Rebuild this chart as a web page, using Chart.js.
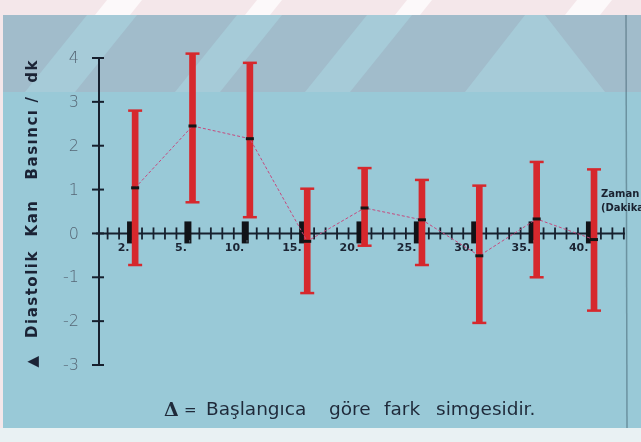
<!DOCTYPE html>
<html>
<head>
<meta charset="utf-8">
<script src="https://cdn.jsdelivr.net/npm/chart.js@4.4.0/dist/chart.umd.min.js"></script>
<style>
  html, body { margin: 0; padding: 0; background: #f3e8eb; }
  #wrap { width: 641px; height: 442px; }
  canvas { display: block; }
</style>
</head>
<body>
<div id="wrap"><canvas id="chart" width="641" height="442"></canvas></div>
<script>
// Measurement times (minutes) and change from baseline in diastolic pressure
const categories = ['2.', '5.', '10.', '15.', '20.', '25.', '30.', '35.', '40.'];
const meanChange = [1.04, 2.45, 2.16, -0.18, 0.58, 0.31, -0.51, 0.33, -0.14];
const upperLimit = [2.80, 4.10, 3.89, 1.02, 1.49, 1.22, 1.09, 1.63, 1.46];
const lowerLimit = [-0.72, 0.71, 0.37, -1.36, -0.28, -0.72, -2.04, -1.00, -1.76];
const yTicks = [4, 3, 2, 1, 0, -1, -2, -3];

const X_MIN = -0.55, X_MAX = 8.62;   // axis extent in category units
const MINOR_STEP = 0.2;              // minor tick spacing on the time axis
const SHIFT = 0.08;                  // error bars sit just right of each time block

const RED = '#d6282d';
const INK = '#17202e';

const barData = categories.map((c, i) => ({ x: i + SHIFT, y: [lowerLimit[i], upperLimit[i]] }));
const capData = categories.flatMap((c, i) => [
  { x: i + SHIFT, y: upperLimit[i] },
  { x: i + SHIFT, y: lowerLimit[i] }
]);
const meanData = categories.map((c, i) => ({ x: i + SHIFT, y: meanChange[i] }));

// slide backdrop: pale paper edge, blue slide with a shaded, striped top band
const backdrop = {
  id: 'backdrop',
  beforeDraw(chart) {
    const ctx = chart.ctx;
    ctx.save();
    ctx.fillStyle = '#f4e7ea';
    ctx.fillRect(0, 0, 641, 442);
    // white diagonal streaks on the paper strip
    ctx.fillStyle = 'rgba(255,255,255,0.75)';
    [[95, 130], [245, 270], [395, 420], [565, 600]].forEach(([a, b]) => {
      ctx.beginPath();
      ctx.moveTo(a, 15); ctx.lineTo(b, 15); ctx.lineTo(b + 12, 0); ctx.lineTo(a + 12, 0);
      ctx.closePath(); ctx.fill();
    });
    // slide body
    ctx.fillStyle = '#99c9d7';
    ctx.fillRect(3, 15, 638, 413);
    // shaded top band
    ctx.fillStyle = '#a1bccb';
    ctx.fillRect(3, 15, 638, 77);
    ctx.fillStyle = '#a6cbd8';
    [[25, 75], [175, 220], [305, 350]].forEach(([a, b]) => {
      ctx.beginPath();
      ctx.moveTo(a, 92); ctx.lineTo(b, 92); ctx.lineTo(b + 62, 15); ctx.lineTo(a + 62, 15);
      ctx.closePath(); ctx.fill();
    });
    ctx.beginPath();
    ctx.moveTo(465, 92); ctx.lineTo(605, 92); ctx.lineTo(545, 15); ctx.lineTo(525, 15);
    ctx.closePath(); ctx.fill();
    // bottom paper strip
    ctx.fillStyle = '#e9f1f3';
    ctx.fillRect(0, 428, 641, 14);
    // slide edge on the right
    ctx.strokeStyle = 'rgba(70,100,115,0.55)';
    ctx.lineWidth = 1.5;
    ctx.beginPath(); ctx.moveTo(626, 15); ctx.lineTo(627, 428); ctx.stroke();
    ctx.restore();
  }
};

// crossing axes with through-ticks, time blocks and tick labels
const crossAxes = {
  id: 'crossAxes',
  beforeDatasetsDraw(chart) {
    const ctx = chart.ctx;
    const xs = chart.scales.x, ys = chart.scales.y;
    const ax = xs.getPixelForValue(X_MIN);
    const y0 = ys.getPixelForValue(0);
    ctx.save();
    ctx.strokeStyle = INK;
    ctx.fillStyle = INK;
    ctx.lineWidth = 2;
    // vertical axis
    ctx.beginPath();
    ctx.moveTo(ax, ys.getPixelForValue(yTicks[0]));
    ctx.lineTo(ax, ys.getPixelForValue(yTicks[yTicks.length - 1]));
    ctx.stroke();
    ctx.font = '300 16px "DejaVu Sans", sans-serif';
    ctx.textAlign = 'right';
    ctx.textBaseline = 'middle';
    yTicks.forEach(v => {
      const py = ys.getPixelForValue(v);
      ctx.strokeStyle = INK;
      ctx.beginPath(); ctx.moveTo(ax - 7, py); ctx.lineTo(ax + 5, py); ctx.stroke();
      ctx.fillStyle = '#566675';
      ctx.fillText(String(v), ax - 20, py + 1);
    });
    // horizontal time axis through zero
    ctx.strokeStyle = INK;
    ctx.beginPath();
    ctx.moveTo(ax - 3, y0);
    ctx.lineTo(xs.getPixelForValue(X_MAX), y0);
    ctx.stroke();
    ctx.lineWidth = 1.8;
    for (let k = Math.ceil(X_MIN / MINOR_STEP); k * MINOR_STEP <= X_MAX + 1e-9; k++) {
      const px = xs.getPixelForValue(k * MINOR_STEP);
      ctx.beginPath(); ctx.moveTo(px, y0 - 6); ctx.lineTo(px, y0 + 6); ctx.stroke();
    }
    // time blocks and labels
    ctx.fillStyle = '#111318';
    categories.forEach((c, i) => {
      const px = xs.getPixelForValue(i);
      ctx.fillRect(px - 3.5, y0 - 12, 7, 22);
    });
    ctx.textAlign = 'right';
    ctx.textBaseline = 'alphabetic';
    categories.forEach((c, i) => {
      const px = xs.getPixelForValue(i);
      ctx.fillStyle = '#1c2433';
      ctx.font = 'bold 11px "DejaVu Sans", sans-serif';
      ctx.fillText(c, px - 1, y0 + 18);
      ctx.fillStyle = '#6f7f8a';
      ctx.font = '9px "DejaVu Sans", sans-serif';
      ctx.fillText("'", px + 3, y0 + 14);
    });
    ctx.restore();
  },
  afterDraw(chart) {
    const ctx = chart.ctx;
    ctx.save();
    // axis name of the time axis
    ctx.fillStyle = '#1a2230';
    ctx.font = 'bold 10px "DejaVu Sans", sans-serif';
    ctx.textAlign = 'left';
    ctx.textBaseline = 'alphabetic';
    ctx.fillText('Zaman', 601, 197);
    ctx.fillText('(Dakika)', 601, 211);
    // vertical axis title, word by word
    ctx.translate(33, 0);
    ctx.rotate(-Math.PI / 2);
    ctx.fillStyle = '#1b2335';
    ctx.textAlign = 'center';
    ctx.textBaseline = 'middle';
    ctx.font = 'bold 15px "DejaVu Sans", sans-serif';
    ctx.letterSpacing = '1.5px';
    [['▲', 361], ['Diastolik', 294], ['Kan', 218], ['Basıncı', 144], ['/', 99], ['dk', 71]]
      .forEach(([w, y]) => ctx.fillText(w, -y, 0));
    ctx.restore();

    // footnote
    ctx.save();
    ctx.fillStyle = '#1f2a3a';
    ctx.textBaseline = 'alphabetic';
    ctx.textAlign = 'left';
    ctx.font = 'bold 19px "DejaVu Serif", serif';
    ctx.fillText('Δ', 164, 416);
    ctx.font = '15px "DejaVu Sans", sans-serif';
    ctx.fillText('=', 184, 415);
    ctx.font = '18.5px "DejaVu Sans", sans-serif';
    [['Başlangıca', 206], ['göre', 329], ['fark', 384], ['simgesidir.', 436]]
      .forEach(([w, x]) => ctx.fillText(w, x, 415));
    ctx.restore();
  }
};

new Chart(document.getElementById('chart'), {
  type: 'bar',
  data: {
    datasets: [
      {
        type: 'line',
        data: meanData,
        order: 0,
        borderColor: '#c64a7e',
        borderWidth: 1,
        borderDash: [3, 2],
        pointStyle: 'line',
        pointRadius: 4,
        pointBorderWidth: 3,
        pointBorderColor: '#151515',
        pointBackgroundColor: '#151515',
        clip: false
      },
      {
        type: 'scatter',
        data: capData,
        order: 1,
        pointStyle: 'line',
        pointRadius: 7,
        pointBorderWidth: 2.5,
        pointBorderColor: RED,
        borderColor: RED,
        clip: false
      },
      {
        type: 'bar',
        data: barData,
        order: 2,
        backgroundColor: RED,
        borderWidth: 0,
        barThickness: 6,
        grouped: false,
        clip: false
      }
    ]
  },
  options: {
    responsive: false,
    animation: false,
    devicePixelRatio: 1,
    layout: { padding: { left: 99, right: 16, top: 58, bottom: 77 } },
    plugins: { legend: { display: false }, tooltip: { enabled: false } },
    scales: {
      x: { type: 'linear', min: X_MIN, max: X_MAX, offset: false, display: false },
      y: { type: 'linear', min: -3, max: 4, display: false }
    }
  },
  plugins: [backdrop, crossAxes]
});
</script>
</body>
</html>
